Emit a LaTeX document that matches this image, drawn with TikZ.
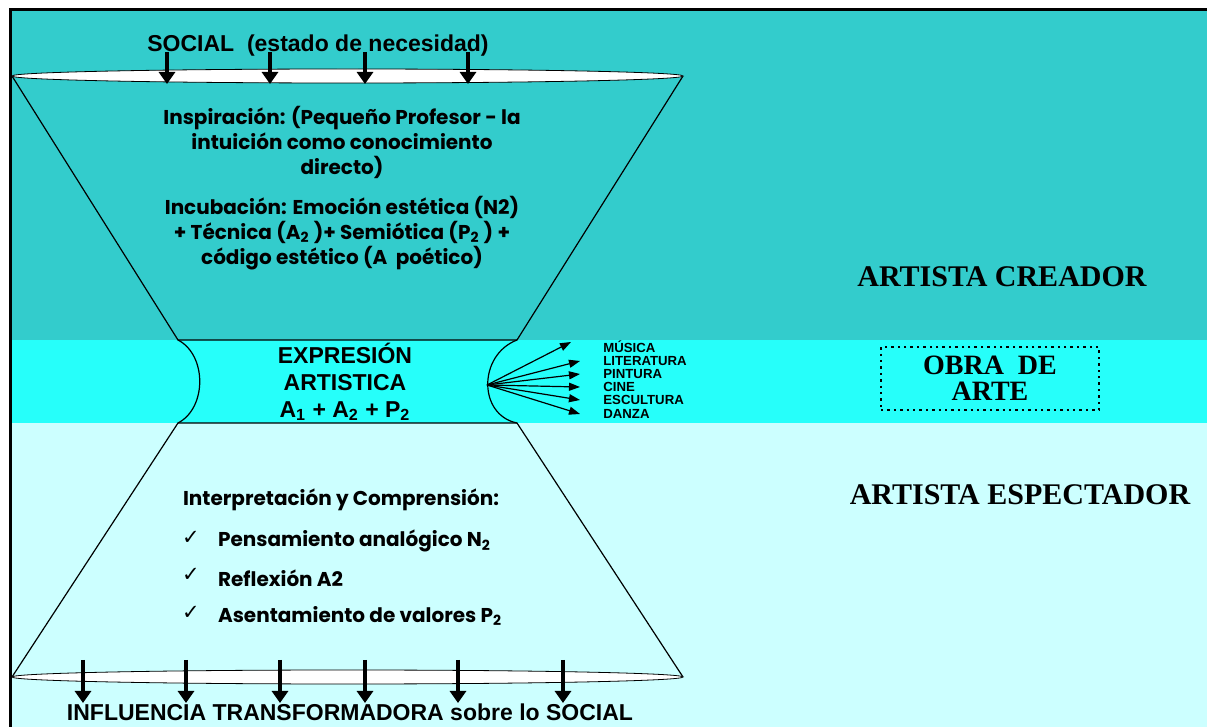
\documentclass[tikz,border=0pt]{standalone}
\usepackage{fontspec}
\usetikzlibrary{arrows.meta,shapes.geometric}

\newfontfamily\arialf{Liberation Sans}
\newfontfamily\timesf{Liberation Serif}
\newfontfamily\roundf{Poppins}
\newfontfamily\symf{DejaVu Sans}

\definecolor{creador}{RGB}{51,204,204}
\definecolor{obra}{RGB}{38,255,250}
\definecolor{espectador}{RGB}{204,255,255}

\tikzset{
  ring/.style={ellipse, draw, fill=white, inner sep=0pt,
    minimum width=335.5pt, minimum height=7pt},
  bigarrow/.style={line width=1.6pt, -{Triangle[length=6pt,width=8pt]}},
  fanarrow/.style={line width=0.6pt, -{Triangle[length=5.5pt,width=4pt]}},
  titletext/.style={font=\arialf\bfseries\fontsize{11.5}{13}\selectfont},
  steptext/.style={font=\roundf\bfseries\fontsize{10}{12.5}\selectfont, align=center},
  listtext/.style={font=\roundf\bfseries\fontsize{10}{11}\selectfont, anchor=west},
  artlabel/.style={font=\arialf\bfseries\fontsize{6.6}{7}\selectfont, anchor=west, inner sep=0pt},
  sidetext/.style={font=\timesf\bfseries\fontsize{15}{17}\selectfont},
}

\begin{document}
\begin{tikzpicture}[x=0.5pt, y=-0.5pt]
  \useasboundingbox (0,0) rectangle (1207,727);

  % Bandas de fondo
  \fill[creador] (10,10) rectangle (1207,340);
  \fill[obra] (10,340) rectangle (1207,423);
  \fill[espectador] (10,423) rectangle (1207,727);
  \draw[line width=1.5pt] (10,727) -- (10,10) -- (1207,10);

  % Embudo superior y cuello
  \draw[line width=0.6pt] (12,76) -- (178,340) -- (517,340) -- (683,76);
  \draw[line width=0.6pt] (178,340) .. controls (207,355) and (207,408) .. (178,423);
  \draw[line width=0.6pt] (517,340) .. controls (478,355) and (478,415) .. (517,423);
  \draw[line width=0.6pt] (12,677) -- (178,423) -- (517,423) -- (683,677);

  % Anillos
  \node[ring] (topring) at (347.5,76) {};
  \node[ring] (botring) at (347.5,677) {};

  % Entrada social
  \node[titletext] (social) at (318,46) {SOCIAL\ \ (estado de necesidad)};
  \foreach \x in {167,270,365,468}
    \draw[bigarrow] (\x,52) -- (\x,84);

  \node[steptext] (inspiracion) at (342,142)
    {Inspiración: (Pequeño Profesor - la\\ intuición como conocimiento\\ directo)};
  \node[steptext] (incubacion) at (342,233)
    {Incubación: Emoción estética (N2)\\
     + Técnica (A\textsubscript{2} )+ Semiótica (P\textsubscript{2} ) +\\
     código estético (A\ \ poético)};

  % Cuello: expresion artistica
  \node[titletext, align=center, font=\arialf\bfseries\fontsize{11.5}{13.5}\selectfont]
    (expresion) at (345,382)
    {EXPRESIÓN\\ ARTISTICA\\ A\textsubscript{1} + A\textsubscript{2} + P\textsubscript{2}};

  \coordinate (hub) at (487,385);
  \node[artlabel] (musica) at (603,347) {MÚSICA};
  \node[artlabel] (literatura) at (603,361) {LITERATURA};
  \node[artlabel] (pintura) at (603,374) {PINTURA};
  \node[artlabel] (cine) at (603,387) {CINE};
  \node[artlabel] (escultura) at (603,400) {ESCULTURA};
  \node[artlabel] (danza) at (603,414) {DANZA};
  \draw[fanarrow] (hub) -- ([xshift=-16pt,yshift=2.5pt]musica.west);
  \foreach \n in {literatura,pintura,cine,escultura,danza}
    \draw[fanarrow] (hub) -- ([xshift=-11.5pt]\n.west);

  \node[draw, dotted, line width=1.2pt, minimum width=109pt, minimum height=31.5pt,
    align=center, font=\timesf\bfseries\fontsize{14}{13}\selectfont]
    (obra) at (990,378.5) {OBRA\ \ DE\\ ARTE};

  \node[sidetext] (creador) at (1002,277) {ARTISTA CREADOR};
  \node[sidetext] (espectador) at (1020,495) {ARTISTA ESPECTADOR};

  % Embudo inferior
  \node[listtext] (interpretacion) at (176,500) {Interpretación y Comprensión:};
  \foreach \y/\t [count=\i] in {541/{Pensamiento analógico N\textsubscript{2}},
      578/{Reflexión A2},
      616/{Asentamiento de valores P\textsubscript{2}}} {
    \node[font=\symf\fontsize{10.5}{11}\selectfont] (check\i) at (191,\y-3) {✓};
    \node[listtext] (item\i) at (211,\y) {\t};
  }

  \foreach \x in {83,186,280,365,458,563}
    \draw[bigarrow] (\x,660) -- (\x,703);
  \node[titletext] (influencia) at (350,712) {INFLUENCIA TRANSFORMADORA sobre lo SOCIAL};
\end{tikzpicture}
\end{document}
